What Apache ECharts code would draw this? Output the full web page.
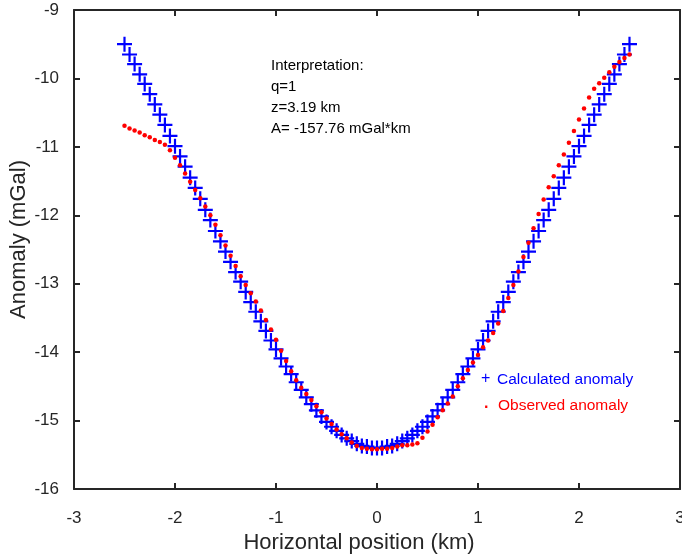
<!DOCTYPE html>
<html><head><meta charset="utf-8">
<script src="https://cdn.jsdelivr.net/npm/echarts@6/dist/echarts.min.js"></script>
<style>html,body{margin:0;padding:0;background:#fff}#c{width:682px;height:554px}</style>
</head><body><div id="c"></div><script>
const xs = [-2.50,-2.45,-2.40,-2.35,-2.30,-2.25,-2.20,-2.15,-2.10,-2.05,
  -2.00,-1.95,-1.90,-1.85,-1.80,-1.75,-1.70,-1.65,-1.60,-1.55,
  -1.50,-1.45,-1.40,-1.35,-1.30,-1.25,-1.20,-1.15,-1.10,-1.05,
  -1.00,-0.95,-0.90,-0.85,-0.80,-0.75,-0.70,-0.65,-0.60,-0.55,
  -0.50,-0.45,-0.40,-0.35,-0.30,-0.25,-0.20,-0.15,-0.10,-0.05,
  0.00,
  0.05,0.10,0.15,0.20,0.25,0.30,0.35,0.40,0.45,0.50,
  0.55,0.60,0.65,0.70,0.75,0.80,0.85,0.90,0.95,1.00,
  1.05,1.10,1.15,1.20,1.25,1.30,1.35,1.40,1.45,1.50,
  1.55,1.60,1.65,1.70,1.75,1.80,1.85,1.90,1.95,2.00,
  2.05,2.10,2.15,2.20,2.25,2.30,2.35,2.40,2.45,2.50];

const calculated = [-9.50,-9.65,-9.79,-9.94,-10.08,-10.23,-10.38,-10.53,-10.68,-10.84,
  -10.99,-11.14,-11.29,-11.45,-11.60,-11.76,-11.92,-12.07,-12.23,-12.38,
  -12.53,-12.68,-12.83,-12.97,-13.12,-13.27,-13.41,-13.55,-13.69,-13.83,
  -13.96,-14.09,-14.21,-14.32,-14.44,-14.55,-14.66,-14.76,-14.85,-14.94,
  -15.02,-15.09,-15.15,-15.21,-15.26,-15.30,-15.34,-15.37,-15.38,-15.40,
  -15.40,
  -15.40,-15.38,-15.37,-15.34,-15.30,-15.26,-15.21,-15.15,-15.09,-15.02,
  -14.94,-14.85,-14.76,-14.66,-14.55,-14.44,-14.32,-14.21,-14.09,-13.96,
  -13.83,-13.69,-13.55,-13.41,-13.27,-13.12,-12.97,-12.83,-12.68,-12.53,
  -12.38,-12.23,-12.07,-11.92,-11.76,-11.60,-11.45,-11.29,-11.14,-10.99,
  -10.84,-10.68,-10.53,-10.38,-10.23,-10.08,-9.94,-9.79,-9.65,-9.50];

const observed = [-10.69,-10.73,-10.76,-10.79,-10.83,-10.86,-10.90,-10.93,-10.97,-11.05,
  -11.16,-11.27,-11.39,-11.51,-11.63,-11.75,-11.87,-12.00,-12.14,-12.29,
  -12.44,-12.59,-12.74,-12.89,-13.02,-13.14,-13.26,-13.39,-13.53,-13.67,
  -13.82,-13.98,-14.13,-14.28,-14.41,-14.52,-14.61,-14.70,-14.79,-14.88,
  -14.97,-15.05,-15.13,-15.20,-15.26,-15.32,-15.37,-15.40,-15.41,-15.42,
  -15.42,
  -15.41,-15.41,-15.40,-15.38,-15.36,-15.36,-15.35,-15.33,-15.25,-15.16,
  -15.06,-14.95,-14.85,-14.75,-14.65,-14.50,-14.38,-14.26,-14.15,-14.04,
  -13.93,-13.83,-13.72,-13.58,-13.40,-13.21,-13.02,-12.82,-12.61,-12.40,
  -12.19,-11.98,-11.77,-11.59,-11.43,-11.27,-11.11,-10.94,-10.77,-10.60,
  -10.44,-10.28,-10.15,-10.07,-9.99,-9.91,-9.83,-9.76,-9.70,-9.65];

const seriesNames = ['Calculated anomaly', 'Observed anomaly'];
const annotationLines = ['Interpretation:', 'q=1', 'z=3.19 km', 'A= -157.76 mGal*km'];
const xTitle = 'Horizontal position (km)';
const yTitle = 'Anomaly (mGal)';

const FONT = '"Liberation Sans", Arial, Helvetica, sans-serif';
const AX = '#262626';
const plus = 'path://M0,6.4L15,6.4L15,8.6L0,8.6Z M6.4,0L8.6,0L8.6,15L6.4,15Z';

function axisCommon(extra) {
  return Object.assign({
    type: 'value',
    axisLine: {show: true, onZero: false, lineStyle: {color: AX, width: 2}},
    axisTick: {show: true, inside: true, length: 6, lineStyle: {color: AX, width: 2}},
    splitLine: {show: false},
    nameMoveOverlap: false
  }, extra);
}

const chart = echarts.init(document.getElementById('c'), null, {renderer: 'canvas'});
chart.setOption({
  backgroundColor: '#fff',
  animation: false,
  grid: {left: 74, right: 2, top: 10, bottom: 65, outerBoundsMode: 'none', containLabel: false},
  xAxis: [
    axisCommon({min: -3, max: 3, interval: 1, position: 'bottom',
      axisLabel: {color: AX, fontSize: 17, fontFamily: FONT, margin: 21},
      name: xTitle, nameLocation: 'middle', nameGap: 43,
      nameTextStyle: {color: AX, fontSize: 22, fontFamily: FONT, padding: [0, 36, 0, 0]}}),
    axisCommon({min: -3, max: 3, interval: 1, position: 'top', axisLabel: {show: false}})
  ],
  yAxis: [
    axisCommon({min: -16, max: -9, interval: 1, position: 'left',
      axisLabel: {color: AX, fontSize: 17, fontFamily: FONT, margin: 15},
      name: yTitle, nameLocation: 'middle', nameGap: 44,
      nameTextStyle: {color: AX, fontSize: 22, fontFamily: FONT, padding: [0, 0, 0, 20]}}),
    axisCommon({min: -16, max: -9, interval: 1, position: 'right', axisLabel: {show: false}})
  ],
  series: [
    {
      name: seriesNames[0], type: 'scatter', xAxisIndex: 0, yAxisIndex: 0,
      symbol: plus, symbolSize: 15,
      itemStyle: {color: '#0000ff', opacity: 1},
      data: xs.map((x, i) => [x, calculated[i]]), z: 2
    },
    {
      name: seriesNames[1], type: 'scatter', xAxisIndex: 0, yAxisIndex: 0,
      symbol: 'circle', symbolSize: 4.5,
      itemStyle: {color: '#ff0000', opacity: 1},
      data: xs.map((x, i) => [x, observed[i]]), z: 3
    }
  ],
  graphic: [
    {type: 'text', left: 271, top: 55, style: {text: annotationLines.join('\n'), fill: '#000', font: '15px ' + FONT, lineHeight: 21}},
    {type: 'text', left: 481, top: 371, style: {text: '+', fill: '#0000ff', font: '16px ' + FONT}},
    {type: 'text', left: 497, top: 372, style: {text: seriesNames[0], fill: '#0000ff', font: '15.5px ' + FONT}},
    {type: 'text', left: 484, top: 396, style: {text: '.', fill: '#ff0000', font: 'bold 16px ' + FONT}},
    {type: 'text', left: 498, top: 398, style: {text: seriesNames[1], fill: '#ff0000', font: '15.5px ' + FONT}}
  ]
});
</script></body></html>
